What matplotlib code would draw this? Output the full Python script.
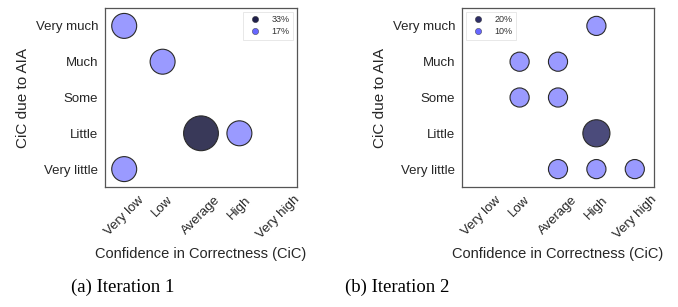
import matplotlib.pyplot as plt
from matplotlib.lines import Line2D

cic_levels = ['Very low', 'Low', 'Average', 'High', 'Very high']
aia_levels = ['Very little', 'Little', 'Some', 'Much', 'Very much']

it1_cic = ['Very low', 'Low', 'Average', 'High', 'Very low']
it1_aia = ['Very much', 'Much', 'Little', 'Little', 'Very little']
it1_pct = [17, 17, 33, 17, 17]

it2_cic = ['High', 'Low', 'Average', 'Low', 'Average', 'High', 'Average', 'High', 'Very high']
it2_aia = ['Very much', 'Much', 'Much', 'Some', 'Some', 'Little', 'Very little', 'Very little', 'Very little']
it2_pct = [10, 10, 10, 10, 10, 20, 10, 10, 10]

plt.rcParams['font.family'] = ['Liberation Sans', 'DejaVu Sans']

fig = plt.figure(figsize=(6.78, 3.07), dpi=100)
ax1 = fig.add_axes([105/678, 1-187/307, 192/678, 179/307])
ax2 = fig.add_axes([462/678, 1-187/307, 192/678, 179/307])


def bubble(ax, cic, aia, pct, dark, dark_leg, legend_loc):
    xs = [cic_levels.index(c) for c in cic]
    ys = [aia_levels.index(a) for a in aia]
    big = max(pct)
    small = min(pct)
    cols = [dark if p == big else '#9a9aff' for p in pct]
    ax.scatter(xs, ys, s=[p*19 for p in pct], c=cols, edgecolors='#2a2a2a',
               linewidths=0.8, zorder=3)
    ax.set_xlim(-0.5, 4.5)
    ax.set_ylim(-0.5, 4.5)
    ax.set_xticks(range(len(cic_levels)))
    ax.set_xticklabels(cic_levels, rotation=45, fontsize=9.5, color='#262626')
    ax.set_yticks(range(len(aia_levels)))
    ax.set_yticklabels(aia_levels, fontsize=9.5, color='#262626')
    ax.tick_params(length=0, pad=5)
    ax.set_xlabel('Confidence in Correctness (CiC)', fontsize=10.5, color='#262626')
    ax.set_ylabel('CiC due to AIA', fontsize=11, color='#262626')
    for sp in ax.spines.values():
        sp.set_color('#555555')
        sp.set_linewidth(0.9)
    handles = [Line2D([], [], marker='o', ls='none', markersize=4.5, color=dark_leg,
                      markeredgecolor='#2a2a2a', markeredgewidth=0.3),
               Line2D([], [], marker='o', ls='none', markersize=4.5, color='#6666ff',
                      markeredgecolor='#2a2a2a', markeredgewidth=0.3)]
    leg = ax.legend(handles, [f'{big}%', f'{small}%'], loc=legend_loc, fontsize=6.5,
                    frameon=True, fancybox=False, handletextpad=0.8, borderpad=0.4,
                    labelspacing=0.3, borderaxespad=0.4)
    leg.get_frame().set_edgecolor('#dddddd')
    leg.get_frame().set_linewidth(0.6)
    for t in leg.get_texts():
        t.set_color('#333333')


bubble(ax1, it1_cic, it1_aia, it1_pct, '#393959', '#20204a', 'upper right')
bubble(ax2, it2_cic, it2_aia, it2_pct, '#4b4b7b', '#2e2e66', 'upper left')

fig.text(123/678, 1-287/307, '(a) Iteration 1', family='Liberation Serif',
         fontsize=13.5, ha='center', va='center')
fig.text(397/678, 1-287/307, '(b) Iteration 2', family='Liberation Serif',
         fontsize=13.5, ha='center', va='center')

fig.savefig('out.png', dpi=100)
